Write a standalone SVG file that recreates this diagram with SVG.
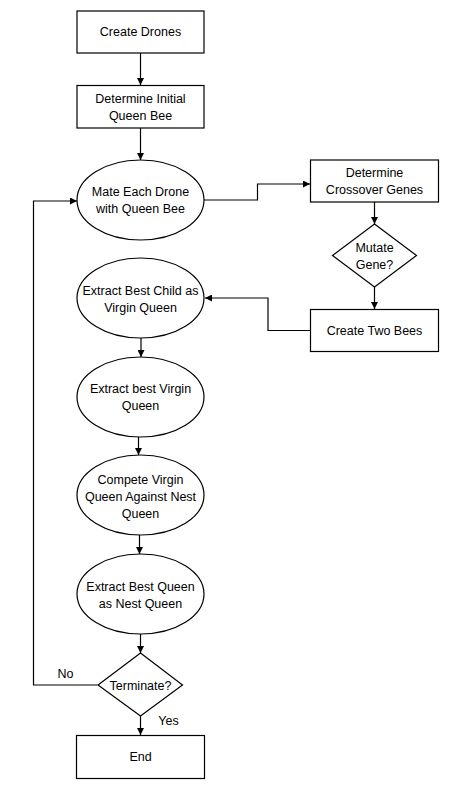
<svg xmlns="http://www.w3.org/2000/svg" width="449" height="793" viewBox="0 0 449 793">
<style>
.n{fill:#fff;stroke:#000;stroke-width:1.2}
.t{font-family:"Liberation Sans",Arial,sans-serif;font-size:12.5px;fill:#000;text-anchor:middle;dominant-baseline:central}
.c{fill:none;stroke:#000;stroke-width:1.2}
</style>
<defs>
<marker id="ah" markerUnits="userSpaceOnUse" markerWidth="7" markerHeight="7" refX="7" refY="3.5" orient="auto">
<path d="M0,0 L7,3.5 L0,7 z" fill="#000"/>
</marker>
</defs>
<rect width="449" height="793" fill="#fff"/>
<g id="connectors">
<line class="c" x1="140.5" y1="53" x2="140.5" y2="85" marker-end="url(#ah)"/>
<line class="c" x1="140.5" y1="128" x2="140.5" y2="160" marker-end="url(#ah)"/>
<polyline class="c" points="204,200 257.5,200 257.5,184 310,184" marker-end="url(#ah)"/>
<line class="c" x1="374.5" y1="202" x2="374.5" y2="224" marker-end="url(#ah)"/>
<line class="c" x1="374.5" y1="287" x2="374.5" y2="309" marker-end="url(#ah)"/>
<polyline class="c" points="310,330.5 268,330.5 268,298 205,298" marker-end="url(#ah)"/>
<line class="c" x1="141" y1="338" x2="141" y2="357" marker-end="url(#ah)"/>
<line class="c" x1="138.5" y1="437" x2="138.5" y2="455" marker-end="url(#ah)"/>
<line class="c" x1="139.5" y1="535" x2="139.5" y2="554" marker-end="url(#ah)"/>
<line class="c" x1="140.5" y1="634" x2="140.5" y2="653" marker-end="url(#ah)"/>
<line class="c" x1="140.5" y1="716" x2="140.5" y2="735" marker-end="url(#ah)"/>
<polyline class="c" points="97.5,685 33.5,685 33.5,201 77,201" marker-end="url(#ah)"/>
<text class="t" x="65.5" y="673.5">No</text>
<text class="t" x="168.5" y="720.5">Yes</text>
</g>
<g id="create-drones">
<rect class="n" x="77" y="11" width="127" height="42"/>
<text class="t" x="140.5" y="32">Create Drones</text>
</g>
<g id="determine-queen">
<rect class="n" x="77" y="85.5" width="127" height="42.5"/>
<text class="t" x="140.5" y="98.5">Determine Initial</text>
<text class="t" x="140.5" y="115.5">Queen Bee</text>
</g>
<g id="mate">
<ellipse class="n" cx="140.5" cy="200" rx="63.5" ry="40"/>
<text class="t" x="140.5" y="191.5">Mate Each Drone</text>
<text class="t" x="140.5" y="208.5">with Queen Bee</text>
</g>
<g id="crossover">
<rect class="n" x="310.5" y="160" width="128" height="42"/>
<text class="t" x="374.5" y="172.5">Determine</text>
<text class="t" x="374.5" y="189.5">Crossover Genes</text>
</g>
<g id="mutate">
<polygon class="n" points="374.5,224 416.5,255.5 374.5,287 332.5,255.5"/>
<text class="t" x="374.5" y="247.5">Mutate</text>
<text class="t" x="374.5" y="264.5">Gene?</text>
</g>
<g id="two-bees">
<rect class="n" x="310.5" y="309.5" width="128" height="42"/>
<text class="t" x="374.5" y="330.5">Create Two Bees</text>
</g>
<g id="best-child">
<ellipse class="n" cx="140.5" cy="298" rx="63.5" ry="40"/>
<text class="t" x="140.5" y="290.5">Extract Best Child as</text>
<text class="t" x="140.5" y="307.5">Virgin Queen</text>
</g>
<g id="best-virgin">
<ellipse class="n" cx="140.5" cy="397" rx="63.5" ry="40"/>
<text class="t" x="140.5" y="389">Extract best Virgin</text>
<text class="t" x="140.5" y="406">Queen</text>
</g>
<g id="compete">
<ellipse class="n" cx="140.5" cy="495" rx="63.5" ry="40"/>
<text class="t" x="140.5" y="480">Compete Virgin</text>
<text class="t" x="140.5" y="497">Queen Against Nest</text>
<text class="t" x="140.5" y="514">Queen</text>
</g>
<g id="best-queen">
<ellipse class="n" cx="140.5" cy="594" rx="63.5" ry="40"/>
<text class="t" x="140.5" y="586.5">Extract Best Queen</text>
<text class="t" x="140.5" y="603.5">as Nest Queen</text>
</g>
<g id="terminate">
<polygon class="n" points="140.5,653 182.5,685 140.5,716 98,685"/>
<text class="t" x="140.5" y="685.5">Terminate?</text>
</g>
<g id="end">
<rect class="n" x="76.5" y="735.5" width="128" height="43"/>
<text class="t" x="140.5" y="757">End</text>
</g>
</svg>
